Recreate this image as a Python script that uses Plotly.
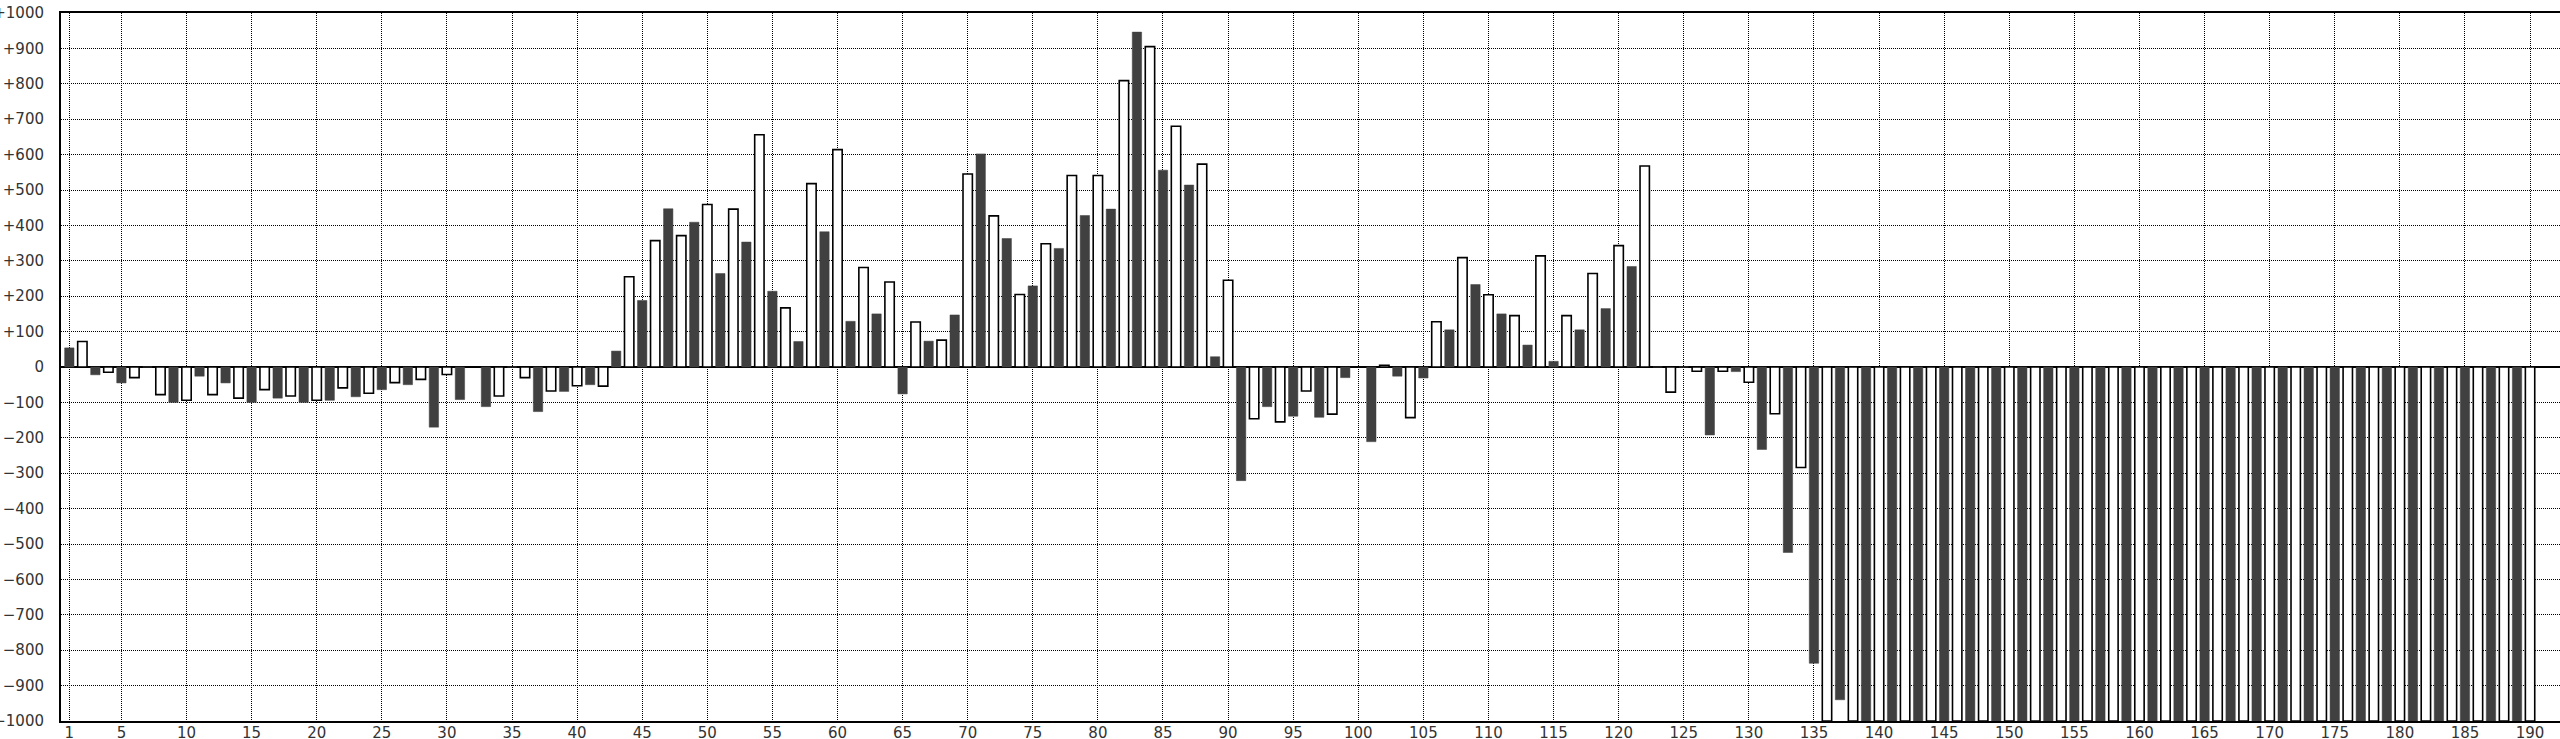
import plotly.graph_objects as go

# odd positions (dark bars) 1,3,...,189
odd_x = list(range(1, 191, 2))
odd_vals = [
    54, -22, -45, 0, -100, -26, -45, -100, -88, -100,          # 1..19
    -94, -84, -64, -50, -170, -92, -112, 0, -126, -69,         # 21..39
    -50, 45, 188, 447, 409, 264, 353, 214, 72, 382,            # 41..59
    129, 150, -76, 73, 147, 602, 363, 229, 335, 428,           # 61..79
    446, 946, 556, 514, 29, -321, -112, -139, -142, -30,       # 81..99
    -211, -26, -31, 105, 233, 150, 62, 16, 105, 165,           # 101..119
    284, 0, 0, -192, -13, -233, -524, -837, -940, -1000,       # 121..139
    -1000, -1000, -1000, -1000, -1000, -1000, -1000, -1000, -1000, -1000,  # 141..159
    -1000, -1000, -1000, -1000, -1000, -1000, -1000, -1000, -1000, -1000,  # 161..179
    -1000, -1000, -1000, -1000, -1000,                         # 181..189
]

# even positions (white bars) 2,4,...,190
even_x = list(range(2, 191, 2))
even_vals = [
    72, -15, -30, -78, -94, -78, -88, -64, -82, -94,           # 2..20
    -59, -74, -44, -35, -21, 0, -82, -30, -68, -53,            # 22..40
    -54, 255, 357, 371, 459, 446, 656, 167, 518, 614,          # 42..60
    281, 240, 127, 76, 545, 427, 205, 348, 541, 541,           # 62..80
    809, 905, 680, 573, 245, -146, -155, -68, -133, 0,         # 82..100
    5, -143, 128, 309, 204, 145, 314, 145, 264, 343,           # 102..120
    568, -71, -12, -12, -43, -132, -284, -1000, -1000, -1000,  # 122..140
    -1000, -1000, -1000, -1000, -1000, -1000, -1000, -1000, -1000, -1000,  # 142..160
    -1000, -1000, -1000, -1000, -1000, -1000, -1000, -1000, -1000, -1000,  # 162..180
    -1000, -1000, -1000, -1000, -1000,                         # 182..190
]

x_tickvals = [1, 5, 10, 15, 20, 25, 30, 35, 40, 45, 50, 55, 60, 65, 70, 75, 80, 85, 90,
              95, 100, 105, 110, 115, 120, 125, 130, 135, 140, 145, 150, 155, 160, 165,
              170, 175, 180, 185, 190]
y_tickvals = [1000, 900, 800, 700, 600, 500, 400, 300, 200, 100, 0,
              -100, -200, -300, -400, -500, -600, -700, -800, -900, -1000]
y_ticktext = ["+1000", "+900", "+800", "+700", "+600", "+500", "+400", "+300", "+200", "+100", "0",
              "\u2212100", "\u2212200", "\u2212300", "\u2212400", "\u2212500", "\u2212600",
              "\u2212700", "\u2212800", "\u2212900", "\u22121000"]

fig = go.Figure()
fig.add_trace(go.Bar(x=odd_x, y=odd_vals, width=0.72,
                     marker=dict(color="#404040", line=dict(color="#404040", width=0.5))))
fig.add_trace(go.Bar(x=even_x, y=even_vals, width=0.72,
                     marker=dict(color="#ffffff", line=dict(color="#000000", width=1.6))))

fig.update_layout(
    template="none",
    width=2560, height=739,
    margin=dict(l=61, r=0, t=13, b=18, pad=0, autoexpand=False),
    paper_bgcolor="white", plot_bgcolor="white",
    barmode="overlay", showlegend=False, hovermode=False,
    font=dict(family="DejaVu Sans", size=15, color="#333333"),
)
fig.update_xaxes(
    automargin=False,
    range=[0.36, 192.3], tickvals=x_tickvals, ticktext=[str(v) for v in x_tickvals],
    showgrid=True, gridcolor="#000000", gridwidth=1, griddash="1px,1px",
    showline=True, linecolor="#000000", linewidth=2, mirror=True,
    ticks="", ticklabelstandoff=-3, zeroline=False,
    tickfont=dict(family="DejaVu Sans", size=15, color="#333333"),
)
fig.update_yaxes(
    automargin=False,
    range=[-1000, 1000], tickvals=y_tickvals, ticktext=y_ticktext,
    showgrid=True, gridcolor="#000000", gridwidth=1, griddash="1px,1px",
    showline=True, linecolor="#000000", linewidth=2, mirror=False,
    zeroline=True, zerolinecolor="#000000", zerolinewidth=2,
    ticks="outside", ticklen=12, tickcolor="rgba(0,0,0,0)",
    tickfont=dict(family="DejaVu Sans", size=15, color="#333333"),
)

fig.write_html(
    "out.html",
    config={"displayModeBar": False, "staticPlot": True},
    post_script="document.body.style.margin='0px';document.body.style.overflow='hidden';",
)
